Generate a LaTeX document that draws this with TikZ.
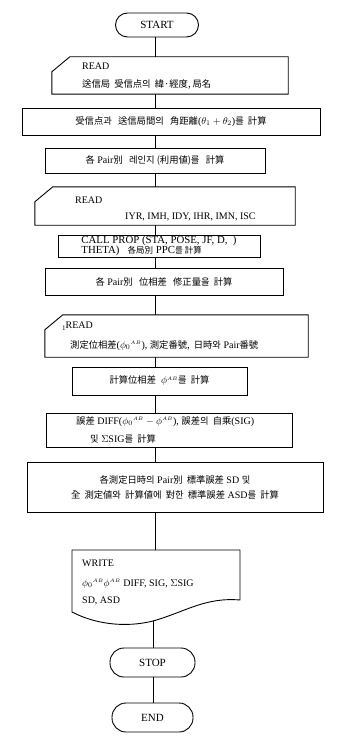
\documentclass[tikz,border=0pt]{standalone}
\usepackage{fontspec}
\setmainfont{Liberation Serif}
\newfontfamily\krfont{Noto Sans CJK KR}
\newcommand\hg[1]{{\krfont\fontsize{9.3}{11}\selectfont #1}}
\newcommand\myAB{^{\scriptscriptstyle AB}}
\usetikzlibrary{calc}
\tikzset{
  ln/.style={line width=0.9pt},
  box/.style={draw, ln, inner sep=0pt, font=\fontsize{10}{12}\selectfont, align=left},
  term/.style={draw, ln, inner sep=0pt, font=\fontsize{11}{13}\selectfont},
  frame/.style={inner sep=0pt},
  txt/.style={inner sep=0pt, anchor=base west, font=\fontsize{10}{12}\selectfont},
}
\newcommand\cardoutline[1]{\draw[ln] ([yshift=-15pt]#1.north west) -- ([xshift=18pt]#1.north west) -- (#1.north east) -- (#1.south east) -- (#1.south west) -- cycle;}
\begin{document}
\begin{tikzpicture}[x=1pt,y=-1pt]
\useasboundingbox (0,0) rectangle (346,741);
\coordinate (ax) at (155,0);
% START
\node[term, minimum width=83pt, minimum height=24pt, rounded corners=12pt] (start) at (157,25) {START};
% READ 1
\node[frame, minimum width=236pt, minimum height=37pt] (r1) at (170,75.5) {};
\cardoutline{r1}
\node[txt] (r1a) at (82,70) {READ};
\node[txt] (r1b) at (82,88) {\hg{送信局\ \ 受信点의\ \ 緯·經度,\ 局名}};
% box 3
\node[box, minimum width=298pt, minimum height=27pt] (b3) at (171,121.5)
  {\hg{受信点과\ \ \ 送信局間의\ \ \ 角距離}($\theta_1+\theta_2$)\hg{를\ \ 計算}};
% box 4
\node[box, minimum width=220pt, minimum height=25pt] (b4) at (155,160.5)
  {\hg{各} Pair\hg{別\ \ \ 레인지 (利用値)를\ \ \ 計算}};
% READ 2
\node[frame, minimum width=260pt, minimum height=38pt] (r2) at (165,206) {};
\cardoutline{r2}
\node[txt] (r2a) at (75,203) {READ};
\node[txt] (r2b) at (125,219) {IYR, IMH, IDY, IHR, IMN, ISC};
% CALL
\node[box, minimum width=202pt, minimum height=22pt, font=\fontsize{10.8}{10}\selectfont] (call) at (159,246)
  {CALL PROP (STA, POSE, JF, D, \ )\\THETA)\ \ \ {\krfont\fontsize{8.5}{9.5}\selectfont 各局別} PPC{\krfont\fontsize{8.5}{9.5}\selectfont 를 計算}};
% box 13
\node[box, minimum width=238pt, minimum height=27pt] (b13) at (164,281.5)
  {\hg{各} Pair\hg{別\ \ \ 位相差\ \ \ 修正量을\ \ 計算}};
% READ 3
\node[frame, minimum width=263pt, minimum height=42pt] (r3) at (176.5,336) {};
\cardoutline{r3}
\node[txt] (r3a) at (62,328) {\raisebox{-2pt}{\fontsize{7}{8}\selectfont 1}READ};
\node[txt] (r3b) at (70,348) {\hg{測定位相差}($\phi_0{}\myAB$),\ \hg{測定番號,\ \ 日時와} Pair\hg{番號}};
% box 17
\node[box, minimum width=175pt, minimum height=28pt] (b17) at (159.5,381)
  {\hg{計算位相差}\ \ $\phi\myAB$\hg{를\ \ 計算}};
% box 19
\node[box, minimum width=246pt, minimum height=34pt] (b19) at (169,430) {};
\node[txt] (b19a) at (76,424) {\hg{誤差} DIFF($\phi_0{}\myAB-\phi\myAB$),\ \hg{誤差의\ \ 自乘}(SIG)};
\node[txt] (b19b) at (90,442) {\hg{및} $\Sigma$SIG\hg{를\ \ 計算}};
% box 21
\node[box, minimum width=296pt, minimum height=50pt, align=center] (b21) at (175,487)
  {\hg{各測定日時의} Pair\hg{別\ \ 標準誤差} SD \hg{및}\\[3pt]
   \hg{全\ \ 測定値와\ \ 計算値에\ \ 對한\ \ 標準誤差} ASD\hg{를\ \ 計算}};
% WRITE
\node[frame, minimum width=168pt, minimum height=50pt] (w) at (156,575) {};
\draw[ln] (72,550) -- (240,550) -- (240,600)
  .. controls (205,597) and (185,612) .. (153,621)
  .. controls (125,628) and (95,624) .. (72,612) -- cycle;
\coordinate (wb) at (153,621);
\node[txt] (wa) at (82,566) {WRITE};
\node[txt] (wbb) at (82,586) {$\phi_0{}\myAB\phi\myAB$ DIFF,\ SIG,\ $\Sigma$SIG};
\node[txt] (wc) at (82,603) {SD,\ ASD};
% STOP / END
\node[term, minimum width=85pt, minimum height=29pt, rounded corners=14pt] (stop) at (152.5,662.5) {STOP};
\node[term, minimum width=81pt, minimum height=29pt, rounded corners=14pt] (end) at (152.5,717.5) {END};
% connectors
\draw[ln] (start.south -| ax) -- (r1.north -| ax);
\draw[ln] (r1.south -| ax) -- (b3.north -| ax);
\draw[ln] (b3.south -| ax) -- (b4.north -| ax);
\draw[ln] (b4.south -| ax) -- (r2.north -| ax);
\draw[ln] (r2.south -| ax) -- (call.north -| ax);
\draw[ln] (call.south -| ax) -- (b13.north -| ax);
\draw[ln] (b13.south -| ax) -- (r3.north -| ax);
\draw[ln] (r3.south -| ax) -- (b17.north -| ax);
\draw[ln] (b17.south -| ax) -- (b19.north -| ax);
\draw[ln] (b19.south -| ax) -- (b21.north -| ax);
\draw[ln] (b21.south -| ax) -- (w.north -| ax);
\draw[ln] (wb) -- (wb |- stop.north);
\draw[ln] (stop.south -| wb) -- (end.north -| wb);
\end{tikzpicture}
\end{document}
